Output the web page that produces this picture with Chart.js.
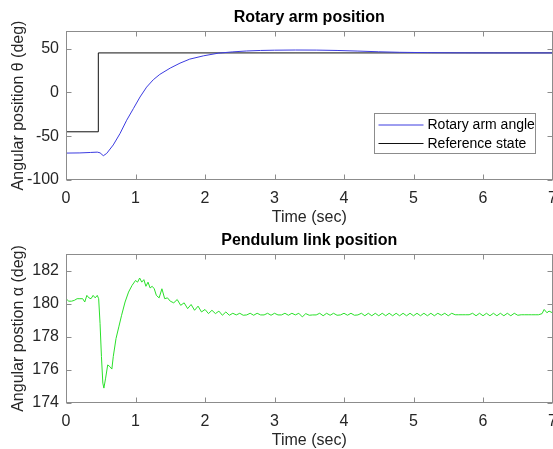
<!DOCTYPE html>
<html>
<head>
<meta charset="utf-8">
<script src="https://cdn.jsdelivr.net/npm/chart.js@4"></script>
<style>
  html, body { margin: 0; padding: 0; background: #fff; }
  body { width: 553px; height: 449px; overflow: hidden; position: relative; }
  canvas { position: absolute; left: 0; }
  #armChart { top: 0; }
  #pendChart { top: 223px; }
</style>
</head>
<body>
<canvas id="armChart" width="570" height="230"></canvas>
<canvas id="pendChart" width="570" height="230"></canvas>
<script>
// ----- data -----
const timeTicks  = [0, 1, 2, 3, 4, 5, 6, 7];
const thetaTicks = [-100, -50, 0, 50];
const alphaTicks = [174, 176, 178, 180, 182];

// rotary arm angle (deg)
const armTime  = [0, 0.2, 0.35, 0.45, 0.49, 0.537, 0.585, 0.68, 0.777, 0.873, 0.969, 1.065, 1.16, 1.256,
                  1.35, 1.5, 1.64, 1.78, 1.98, 2.19, 2.4, 2.6, 2.8, 3.0, 3.3, 3.6, 3.9, 4.2,
                  4.5, 4.8, 5.2, 5.6, 6.2, 7.0];
const armAngle = [-69.3, -69.1, -68.6, -68.2, -69, -72.3, -69.7, -60, -47, -31.8, -18.6, -5.3, 6, 14.4,
                  20.5, 27.7, 33.3, 37.9, 41.7, 44.7, 46.2, 47.2, 47.8, 48.1, 48.3, 48.2, 47.8, 47.1,
                  46.3, 45.7, 45.3, 45.1, 45, 45];

// reference state (deg)
const refTime  = [0, 0.465, 0.465, 7];
const refAngle = [-45, -45, 45, 45];

// pendulum angle (deg)
const pendTime = [0, 0.04, 0.08, 0.12, 0.16, 0.2, 0.24, 0.27, 0.3, 0.33, 0.36, 0.39, 0.42, 0.45, 0.47, 0.49,
                  0.51, 0.53, 0.545, 0.57, 0.6, 0.63, 0.66, 0.68, 0.72, 0.76, 0.8, 0.85, 0.9, 0.95, 1.0, 1.03,
                  1.06, 1.09, 1.12, 1.15, 1.18, 1.21, 1.24, 1.27, 1.3, 1.34, 1.38, 1.42, 1.46, 1.5, 1.55, 1.6,
                  1.65, 1.7, 1.75, 1.8, 1.85, 1.9, 1.95, 2.0, 2.05, 2.1, 2.15, 2.2, 2.25, 2.3,
                  2.35, 2.4, 2.45, 2.5, 2.55, 2.6, 2.65, 2.7, 2.75, 2.8, 2.85, 2.9, 2.95, 3.0, 3.05, 3.1,
                  3.15, 3.2, 3.25, 3.3, 3.35, 3.4, 3.45, 3.5, 3.55, 3.6, 3.65, 3.7, 3.75, 3.8, 3.85, 3.9,
                  3.95, 4.0, 4.05, 4.1, 4.15, 4.2, 4.25, 4.3, 4.35, 4.4, 4.45, 4.5, 4.55, 4.6, 4.65, 4.7,
                  4.75, 4.8, 4.85, 4.9, 4.95, 5.0, 5.05, 5.1, 5.15, 5.2, 5.25, 5.3, 5.35, 5.4, 5.45, 5.5,
                  5.55, 5.6, 5.65, 5.7, 5.75, 5.8, 5.85, 5.9, 5.95, 6.0, 6.05, 6.1, 6.15, 6.2, 6.25, 6.3,
                  6.35, 6.4, 6.45, 6.5, 6.55, 6.6, 6.65, 6.7, 6.75, 6.8, 6.85, 6.88, 6.92, 6.95, 7.0];
const pendAngle = [180.3, 180.15, 180.15, 180.2, 180.3, 180.3, 180.3, 180.1, 180.5, 180.35, 180.3, 180.5, 180.35, 180.5, 180.3, 178.8,
                   176.8, 175.2, 174.9, 175.5, 176.3, 176.2, 176.05, 176.8, 177.9, 178.6, 179.3, 180.1, 180.7, 181.1, 181.4, 181.3,
                   181.55, 181.3, 181.45, 181.05, 181.3, 180.95, 181.05, 180.9, 180.5, 180.35, 180.9, 180.3, 180.35, 180.15, 180.05, 180.25,
                   179.9, 180.05, 179.7, 179.95, 179.6, 179.85, 179.5, 179.65, 179.4, 179.6, 179.4, 179.55, 179.3, 179.5,
                   179.3, 179.42, 179.32, 179.42, 179.3, 179.32, 179.42, 179.3, 179.42, 179.32, 179.32, 179.42, 179.3, 179.42, 179.32, 179.32,
                   179.42, 179.3, 179.42, 179.32, 179.42, 179.2, 179.4, 179.3, 179.32, 179.32, 179.42, 179.27, 179.42, 179.3, 179.42, 179.3,
                   179.32, 179.42, 179.3, 179.42, 179.3, 179.32, 179.42, 179.27, 179.42, 179.27, 179.42, 179.27, 179.42, 179.27, 179.42, 179.27,
                   179.42, 179.27, 179.42, 179.27, 179.42, 179.27, 179.42, 179.27, 179.42, 179.27, 179.42, 179.27, 179.42, 179.3, 179.42, 179.27,
                   179.42, 179.33, 179.33, 179.33, 179.33, 179.33, 179.42, 179.27, 179.42, 179.27, 179.42, 179.27, 179.42, 179.27, 179.42, 179.27,
                   179.42, 179.27, 179.42, 179.3, 179.33, 179.33, 179.33, 179.33, 179.33, 179.33, 179.4, 179.65, 179.45, 179.55, 179.45];

// ----- helpers -----
Chart.defaults.font.family = "'Liberation Sans', Arial, sans-serif";
Chart.defaults.color = '#262626';

const pts = (xs, ys) => xs.map((t, i) => ({ x: t, y: ys[i] }));

// box around the plot area with inward ticks (matlab style)
const axesBox = {
  id: 'axesBox',
  afterDatasetsDraw(chart) {
    const { ctx, chartArea: a, scales: { x, y } } = chart;
    const l = Math.round(a.left) + 0.5, r = Math.round(a.right) - 0.5;
    const t = Math.round(a.top) + 0.5, b = Math.round(a.bottom) - 0.5;
    ctx.save();
    ctx.strokeStyle = '#8c8c8c';
    ctx.lineWidth = 1;
    ctx.strokeRect(l, t, r - l, b - t);
    ctx.beginPath();
    x.ticks.forEach(tk => {
      const px = Math.round(x.getPixelForValue(tk.value)) + 0.5;
      ctx.moveTo(px, b); ctx.lineTo(px, b - 5);
      ctx.moveTo(px, t); ctx.lineTo(px, t + 5);
    });
    y.ticks.forEach(tk => {
      const py = Math.round(y.getPixelForValue(tk.value)) + 0.5;
      ctx.moveTo(l, py); ctx.lineTo(l + 5, py);
      ctx.moveTo(r, py); ctx.lineTo(r - 5, py);
    });
    ctx.stroke();
    ctx.restore();
  }
};

// legend box in lower right of the plot area
const boxLegend = {
  id: 'boxLegend',
  afterDraw(chart, args, opts) {
    if (!opts.show) return;
    const { ctx, chartArea: a } = chart;
    const w = 161, h = 40;
    const x0 = Math.round(a.right - 18 - w) + 0.5, y0 = Math.round(a.bottom - 27 - h) + 0.5;
    ctx.save();
    ctx.fillStyle = '#fff';
    ctx.fillRect(x0, y0, w, h);
    ctx.strokeStyle = '#8c8c8c';
    ctx.lineWidth = 1;
    ctx.strokeRect(x0, y0, w, h);
    ctx.font = "14px 'Liberation Sans', Arial, sans-serif";
    ctx.textBaseline = 'middle';
    chart.data.datasets.forEach((ds, i) => {
      const ly = y0 + 11.5 + i * 18.5;
      ctx.strokeStyle = ds.borderColor;
      ctx.beginPath();
      ctx.moveTo(x0 + 4, ly); ctx.lineTo(x0 + 49, ly);
      ctx.stroke();
      ctx.fillStyle = '#000';
      ctx.fillText(ds.label, x0 + 53, ly + 0.5);
    });
    ctx.restore();
  }
};

function makeOptions(title, yTitle, yMin, yMax, yTicks, legend) {
  return {
    responsive: false,
    animation: false,
    layout: { padding: { left: 0, right: 17.5, top: 0, bottom: 0 } },
    plugins: {
      legend: { display: false },
      tooltip: { enabled: false },
      boxLegend: { show: legend },
      title: {
        display: true, text: title, fullSize: false, color: '#000',
        font: { size: 16, weight: 'bold' },
        padding: { top: 8, bottom: 3.8 }
      }
    },
    scales: {
      x: {
        type: 'linear', min: 0, max: 7,
        afterBuildTicks: s => { s.ticks = timeTicks.map(v => ({ value: v })); },
        afterFit: s => { s.height = 50; },
        grid: { display: false, drawTicks: false },
        border: { display: false },
        ticks: { padding: 9, font: { size: 16 } },
        title: { display: true, text: 'Time (sec)', font: { size: 16 }, padding: { top: 0, bottom: 2.4 } }
      },
      y: {
        min: yMin, max: yMax,
        afterBuildTicks: s => { s.ticks = yTicks.map(v => ({ value: v })); },
        afterFit: s => { s.width = 66; },
        grid: { display: false, drawTicks: false },
        border: { display: false },
        ticks: { padding: 7, font: { size: 16 } },
        title: { display: true, text: yTitle, font: { size: 16 }, padding: { top: 9, bottom: 0 } }
      }
    }
  };
}

const lineStyle = { pointRadius: 0, borderWidth: 1, tension: 0, fill: false };

new Chart(document.getElementById('armChart'), {
  type: 'line',
  data: {
    datasets: [
      { label: 'Rotary arm angle', data: pts(armTime, armAngle), borderColor: '#3c3ce0', ...lineStyle },
      { label: 'Reference state', data: pts(refTime, refAngle), borderColor: '#111', ...lineStyle }
    ]
  },
  options: makeOptions('Rotary arm position', 'Angular position θ (deg)', -100, 70, thetaTicks, true),
  plugins: [axesBox, boxLegend]
});

new Chart(document.getElementById('pendChart'), {
  type: 'line',
  data: {
    datasets: [
      { label: 'Pendulum angle', data: pts(pendTime, pendAngle), borderColor: '#2ae02a', ...lineStyle }
    ]
  },
  options: makeOptions('Pendulum link position', 'Angular postion α (deg)', 174, 183, alphaTicks, false),
  plugins: [axesBox, boxLegend]
});
</script>
</body>
</html>
